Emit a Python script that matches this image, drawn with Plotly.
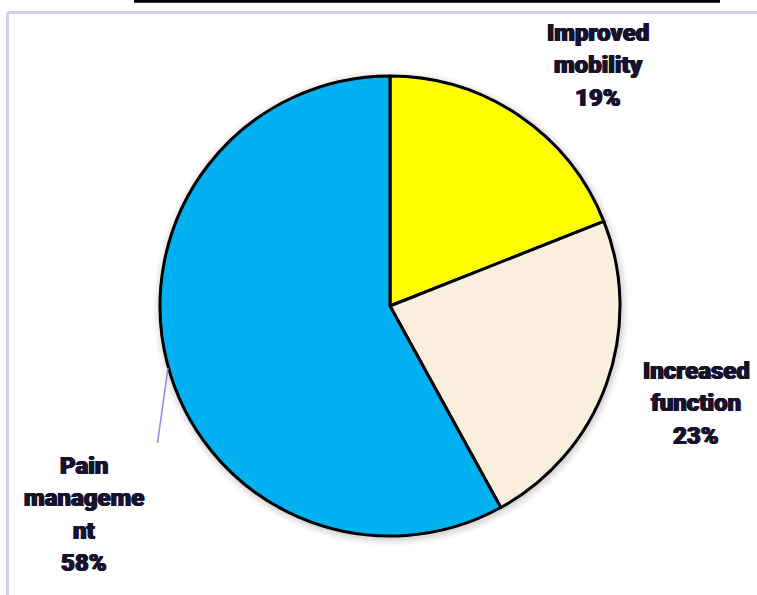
import plotly.graph_objects as go

categories = ["Improved mobility", "Increased function", "Pain management"]
values = [19, 23, 58]
colors = ["#FFFF00", "#FAEEDC", "#00B0F0"]
label_lines = [
    ["Improved", "mobility", "19%"],
    ["Increased", "function", "23%"],
    ["Pain", "manageme", "nt", "58%"],
]

W, H = 757, 595
cx, cy, r = 390, 306, 230

fig = go.Figure()
fig.add_trace(go.Pie(
    labels=categories, values=values, sort=False, direction="clockwise", rotation=0,
    marker=dict(colors=colors, line=dict(color="black", width=3)),
    textinfo="none", hoverinfo="label+percent", showlegend=False,
    domain=dict(x=[(cx - r) / W, (cx + r) / W], y=[(H - cy - r) / H, (H - cy + r) / H]),
))

# label positions (pixel centers of first line)
label_pos = [(598, 33), (696, 371), (84, 466)]
line_h = 32.3
annotations = []
for lines, (lx, ly) in zip(label_lines, label_pos):
    for i, t in enumerate(lines):
        annotations.append(dict(
            x=lx / W, y=1 - (ly + i * line_h) / H, xref="paper", yref="paper",
            text=t, showarrow=False, xanchor="center", yanchor="middle",
            font=dict(family="Roboto", size=24, color="#16122e", weight=900,
                      shadow="0.7px 0 0 #16122e, -0.7px 0 0 #16122e, 0 0.4px 0 #16122e"),
        ))

shapes = []
# soft shadow around pie
for k, a in [(8, 0.025), (6, 0.03), (4, 0.04), (2, 0.05)]:
    shapes.append(dict(type="circle", xref="paper", yref="paper",
                       x0=(cx - r - k + 1) / W, x1=(cx + r + k + 1) / W,
                       y0=1 - (cy + r + k + 2) / H, y1=1 - (cy - r - k + 2) / H,
                       fillcolor=f"rgba(0,0,0,{a})", line=dict(width=0), layer="below"))
# frame lines
shapes.append(dict(type="line", xref="paper", yref="paper", x0=7.5 / W, x1=1, y0=1 - 12.5 / H, y1=1 - 12.5 / H,
                   line=dict(color="#D2CEF0", width=3)))
shapes.append(dict(type="line", xref="paper", yref="paper", x0=7.5 / W, x1=7.5 / W, y0=0, y1=1 - 12.5 / H,
                   line=dict(color="#D2CEF0", width=3)))
# cut-off title underline
shapes.append(dict(type="line", xref="paper", yref="paper", x0=134 / W, x1=720 / W, y0=1 - 1.2 / H, y1=1 - 1.2 / H,
                   line=dict(color="black", width=3)))
# leader line for pain management
shapes.append(dict(type="line", xref="paper", yref="paper", x0=168 / W, x1=157.5 / W, y0=1 - 368 / H, y1=1 - 443 / H,
                   line=dict(color="#8F86E0", width=1.5)))

fig.update_layout(
    width=W, height=H, margin=dict(l=0, r=0, t=0, b=0),
    paper_bgcolor="white", plot_bgcolor="white",
    annotations=annotations, shapes=shapes,
)
fig.write_html("out.html", config={"displayModeBar": False},
               post_script="document.body.style.margin='0';document.body.style.overflow='hidden';")
